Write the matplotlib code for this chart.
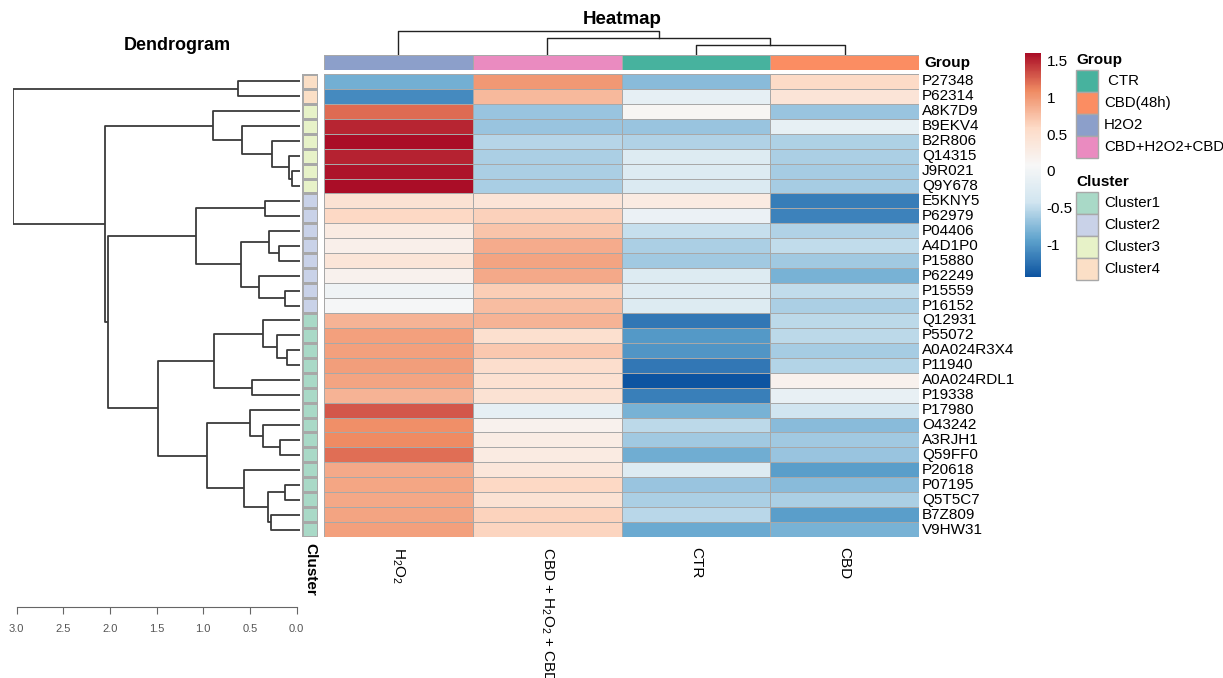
import matplotlib
matplotlib.use("Agg")
import matplotlib.pyplot as plt
import numpy as np
from matplotlib.colors import LinearSegmentedColormap, ListedColormap, Normalize
from matplotlib.patches import Rectangle
import matplotlib.cm as cm

plt.rcParams['font.family'] = ['Liberation Sans', 'DejaVu Sans']
plt.rcParams['mathtext.fontset'] = 'custom'
plt.rcParams['mathtext.rm'] = 'Liberation Sans'
plt.rcParams['mathtext.it'] = 'Liberation Sans:italic'
plt.rcParams['mathtext.bf'] = 'Liberation Sans:bold'

# ---------------------------------------------------------------------
# Data
# ---------------------------------------------------------------------
proteins = ["P27348", "P62314", "A8K7D9", "B9EKV4", "B2R806", "Q14315", "J9R021",
            "Q9Y678", "E5KNY5", "P62979", "P04406", "A4D1P0", "P15880", "P62249",
            "P15559", "P16152", "Q12931", "P55072", "A0A024R3X4", "P11940",
            "A0A024RDL1", "P19338", "P17980", "O43242", "A3RJH1", "Q59FF0",
            "P20618", "P07195", "Q5T5C7", "B7Z809", "V9HW31"]

col_labels = [r"H$_2$O$_2$", r"CBD + H$_2$O$_2$ + CBD", "CTR", "CBD"]
col_groups = ["H2O2", "CBD+H2O2+CBD", "CTR", "CBD(48h)"]

group_names = ["CTR", "CBD(48h)", "H2O2", "CBD+H2O2+CBD"]
group_colors = ["#47B29E", "#FB8D62", "#8C9FCA", "#EA8BC0"]

cluster_names = ["Cluster1", "Cluster2", "Cluster3", "Cluster4"]
cluster_colors = ["#A9D9C7", "#C9D2E8", "#E7F2C8", "#FBDFC6"]
row_cluster = [4, 4, 3, 3, 3, 3, 3, 3, 2, 2, 2, 2, 2, 2, 2, 2,
               1, 1, 1, 1, 1, 1, 1, 1, 1, 1, 1, 1, 1, 1, 1]

h2o2 = [-0.85, -1.10, 1.22, 1.50, 1.62, 1.52, 1.57, 1.62, 0.45, 0.60, 0.30,
        0.22, 0.40, 0.18, -0.03, 0.05, 0.83, 0.95, 0.95, 0.97, 0.93, 0.83,
        1.30, 1.06, 1.08, 1.20, 0.90, 0.92, 0.91, 0.93, 0.95]
cbd_h2o2_cbd = [1.00, 0.80, -0.68, -0.68, -0.55, -0.60, -0.60, -0.61, 0.42,
                0.65, 0.73, 0.88, 0.93, 0.90, 0.67, 0.78, 0.83, 0.50, 0.70,
                0.52, 0.48, 0.45, -0.15, 0.18, 0.28, 0.30, 0.38, 0.60, 0.45,
                0.63, 0.62]
ctr = [-0.75, -0.15, 0.12, -0.68, -0.57, -0.28, -0.28, -0.30, 0.30, -0.08,
       -0.48, -0.60, -0.65, -0.28, -0.25, -0.28, -1.22, -1.00, -1.03, -1.22,
       -1.45, -1.17, -0.82, -0.52, -0.65, -0.86, -0.28, -0.68, -0.60, -0.54,
       -0.88]
cbd = [0.59, 0.42, -0.68, -0.13, -0.58, -0.60, -0.62, -0.62, -1.18, -1.15,
       -0.57, -0.50, -0.65, -0.82, -0.50, -0.60, -0.53, -0.52, -0.62, -0.56,
       0.18, -0.12, -0.43, -0.75, -0.65, -0.68, -0.97, -0.75, -0.60, -0.97,
       -0.82]

# row tree: (child a, child b, height); ids >= 31 are earlier merges
row_merges = [(0, 1, 0.63), (6, 7, 0.045), (5, 32, 0.084), (4, 33, 0.259),
              (3, 34, 0.581), (2, 35, 0.898), (8, 9, 0.338), (11, 12, 0.191),
              (10, 38, 0.292), (14, 15, 0.123), (13, 40, 0.399), (39, 41, 0.598),
              (37, 42, 1.077), (18, 19, 0.099), (17, 44, 0.212), (16, 45, 0.356),
              (20, 21, 0.474), (46, 47, 0.884), (24, 25, 0.177), (23, 49, 0.359),
              (22, 50, 0.498), (27, 28, 0.123), (29, 30, 0.273), (52, 53, 0.31),
              (26, 54, 0.559), (51, 55, 0.962), (48, 56, 1.488), (43, 57, 2.017),
              (36, 58, 2.049), (31, 59, 3.035)]
col_merges = [(2, 3, 1.05), (1, 4, 1.74), (0, 5, 2.44)]

dendro_ticks = [3.0, 2.5, 2.0, 1.5, 1.0, 0.5, 0.0]
cbar_ticks = [-1, -0.5, 0, 0.5, 1, 1.5]
vmin, vmax = -1.45, 1.605

# ---------------------------------------------------------------------
# Figure layout (pixel based)
# ---------------------------------------------------------------------
W, H = 1223, 678
fig = plt.figure(figsize=(W / 100, H / 100), dpi=100)


def px_axes(x0, y0, x1, y1):
    return fig.add_axes([x0 / W, 1 - y1 / H, (x1 - x0) / W, (y1 - y0) / H])


def draw_dendro(ax, merges, n, leaf_h, left=True, **kw):
    pos = {i: i + 0.5 for i in range(n)}
    hgt = {i: leaf_h for i in range(n)}
    for k, (a, b, h) in enumerate(merges):
        hs = [hgt[a], h, h, hgt[b]]
        ps = [pos[a], pos[a], pos[b], pos[b]]
        if left:
            ax.plot(hs, ps, **kw)
        else:
            ax.plot(ps, hs, **kw)
        pos[n + k] = (pos[a] + pos[b]) / 2
        hgt[n + k] = h


n_rows = len(proteins)
n_cols = len(col_labels)
values = np.column_stack([h2o2, cbd_h2o2_cbd, ctr, cbd])

cmap = LinearSegmentedColormap.from_list(
    "rdbu", ["#0d54a1", "#5fa3cd", "#d1e5f0", "#f7f7f7", "#fddbc7", "#ef8a62", "#aa0d27"])
norm = Normalize(vmin=vmin, vmax=vmax)
edge = "#a8a8a8"

# heatmap
ax_hm = px_axes(324, 74, 919, 537)
ax_hm.pcolormesh(values, cmap=cmap, norm=norm, edgecolors=edge, linewidth=0.7)
ax_hm.set_xlim(0, n_cols)
ax_hm.set_ylim(n_rows, 0)
ax_hm.axis("off")
for i, name in enumerate(proteins):
    ax_hm.text(1.005, 1 - (i + 0.5) / n_rows, name, transform=ax_hm.transAxes,
               ha="left", va="center", fontsize=11)
for j, lab in enumerate(col_labels):
    fig.text((324 + 148.75 * (j + 0.5)) / W, 1 - 547 / H, lab, rotation=270,
             ha="center", va="top", fontsize=11)

# group bar
ax_gr = px_axes(324, 55, 919, 70)
gidx = np.array([[group_names.index(g) for g in col_groups]])
ax_gr.pcolormesh(gidx, cmap=ListedColormap(group_colors), vmin=-0.5, vmax=3.5,
                 edgecolors=edge, linewidth=0.7)
ax_gr.set_xlim(0, n_cols)
ax_gr.axis("off")
fig.text(924 / W, 1 - 63 / H, "Group", ha="left", va="center",
         fontsize=11, fontweight="bold")

# cluster column
ax_cl = px_axes(302, 74, 318, 537)
cidx = np.array(row_cluster).reshape(-1, 1) - 1
ax_cl.pcolormesh(cidx, cmap=ListedColormap(cluster_colors), vmin=-0.5, vmax=3.5,
                 edgecolors=edge, linewidth=0.8)
ax_cl.set_ylim(n_rows, 0)
ax_cl.axis("off")
fig.text(310 / W, 1 - 543 / H, "Cluster", rotation=270, ha="center", va="top",
         fontsize=11, fontweight="bold")

# row dendrogram
ax_rd = px_axes(13, 74, 300, 537)
draw_dendro(ax_rd, row_merges, n_rows, -0.04, left=True,
            color="#3a3a3a", lw=1.3, solid_capstyle="butt")
ax_rd.set_xlim(3.04, -0.0375)
ax_rd.set_ylim(n_rows, 0)
ax_rd.axis("off")

# dendrogram scale
ax_sc = px_axes(13, 600, 300, 607)
ax_sc.set_xlim(3.04, -0.0375)
for s in ["top", "left", "right"]:
    ax_sc.spines[s].set_visible(False)
ax_sc.spines["bottom"].set_bounds(0, 3)
ax_sc.spines["bottom"].set_color("#666666")
ax_sc.set_yticks([])
ax_sc.set_xticks(dendro_ticks)
ax_sc.set_xticklabels(["%.1f" % t for t in dendro_ticks], fontsize=8,
                      color="#555555", family=["Liberation Sans Narrow", "Liberation Sans"])
ax_sc.tick_params(axis="x", direction="out", length=5, width=0.8,
                  color="#666666", pad=7)
ax_sc.patch.set_visible(False)

fig.text(177 / W, 1 - 46 / H, "Dendrogram", ha="center", va="center",
         fontsize=13, fontweight="bold")

# column dendrogram
ax_cd = px_axes(324, 30, 919, 55)
draw_dendro(ax_cd, col_merges, n_cols, 0.0, left=False, color="#222222", lw=1.0)
ax_cd.set_xlim(0, n_cols)
ax_cd.set_ylim(0, 2.5)
ax_cd.axis("off")
fig.text(622 / W, 1 - 20 / H, "Heatmap", ha="center", va="center",
         fontsize=13.5, fontweight="bold")

# colorbar
ax_cb = px_axes(1025, 53, 1041, 277)
cb = fig.colorbar(cm.ScalarMappable(norm=norm, cmap=cmap), cax=ax_cb)
cb.outline.set_visible(False)
cb.set_ticks(cbar_ticks)
cb.set_ticklabels(["%g" % t for t in cbar_ticks])
ax_cb.tick_params(length=0, labelsize=11, pad=4)

# legends
def legend_block(title, names, colors, x, y_title, y0, step):
    fig.text(x / W, 1 - y_title / H, title, ha="left", va="center",
             fontsize=11, fontweight="bold")
    for k, (nm, c) in enumerate(zip(names, colors)):
        yt = y0 + k * step
        fig.patches.append(Rectangle((x / W, 1 - (yt + step) / H), 22 / W, step / H,
                                     transform=fig.transFigure, facecolor=c,
                                     edgecolor="#a8a8a8", linewidth=1.0))
        fig.text((x + 28) / W, 1 - (yt + step / 2) / H, nm, ha="left",
                 va="center", fontsize=10.8)


legend_block("Group", [" CTR"] + group_names[1:], group_colors, 1076, 60, 69.5, 22.2)
legend_block("Cluster", cluster_names, cluster_colors, 1076, 182, 191.5, 22.2)

fig.savefig("out.png", dpi=100)
